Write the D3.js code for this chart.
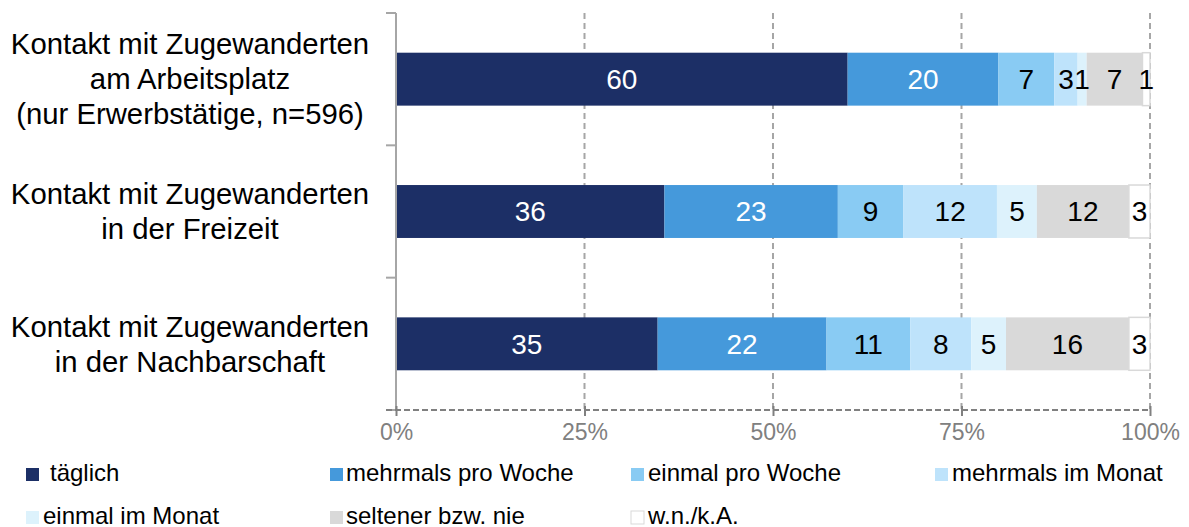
<!DOCTYPE html>
<html><head><meta charset="utf-8">
<script src="https://cdn.jsdelivr.net/npm/d3@7"></script>
<style>
html,body{margin:0;padding:0;background:#fff;}
svg{display:block;font-family:"Liberation Sans",Arial,sans-serif;}
</style></head>
<body>
<svg id="chart" width="1189" height="527"></svg>
<script>
const categories = [
  "Kontakt mit Zugewanderten\nam Arbeitsplatz\n(nur Erwerbstätige, n=596)",
  "Kontakt mit Zugewanderten\nin der Freizeit",
  "Kontakt mit Zugewanderten\nin der Nachbarschaft"
];
const seriesNames = ["täglich","mehrmals pro Woche","einmal pro Woche","mehrmals im Monat","einmal im Monat","seltener bzw. nie","w.n./k.A."];
const seriesColors = ["#1C2F66","#4599DB","#89CBF3","#BEE3FB","#DDF2FC","#D9D9D9","#FFFFFF"];
const labelColors = ["#FFFFFF","#FFFFFF","#000000","#000000","#000000","#000000","#000000"];
const tagliche = [59.9, 35.6, 34.7];
const mehrmalsWoche = [20.0, 23.0, 22.4];
const einmalWoche = [7.4, 8.7, 11.1];
const mehrmalsMonat = [3.1, 12.4, 8.1];
const einmalMonat = [1.2, 5.3, 4.6];
const seltener = [7.4, 12.2, 16.3];
const wnka = [1.0, 2.8, 2.8];
const seriesValues = [tagliche, mehrmalsWoche, einmalWoche, mehrmalsMonat, einmalMonat, seltener, wnka];
const tickValues = [0, 25, 50, 75, 100];
const tickLabels = ["0%","25%","50%","75%","100%"];

const svg = d3.select("#chart");
const x = d3.scaleLinear().domain([0,100]).range([396,1150]);
const y = d3.scaleBand().domain(d3.range(categories.length)).range([13,410]).paddingInner(0.6).paddingOuter(0.3);

// gridlines
svg.append("g").selectAll("line").data(tickValues.slice(1)).join("line")
  .attr("x1", d=>x(d)).attr("x2", d=>x(d)).attr("y1", 13).attr("y2", 410)
  .attr("stroke", "#A6A6A6").attr("stroke-width", 2).attr("stroke-dasharray", "6,4");

// stacked data
const rows = categories.map((c,i)=>{
  let acc = 0;
  return seriesValues.map((vals,s)=>{ const v = vals[i]; const seg = {s, i, x0: acc, x1: acc+v, v}; acc += v; return seg; });
});

const bars = svg.append("g");
rows.forEach(row=>{
  bars.selectAll(null).data(row).join("rect")
    .attr("x", d=>x(d.x0)).attr("width", d=>x(d.x1)-x(d.x0))
    .attr("y", d=>y(d.i)).attr("height", y.bandwidth())
    .attr("fill", d=>seriesColors[d.s])
    .attr("stroke", d=>d.s===6?"#D9D9D9":"none").attr("stroke-width",1.5);
  bars.selectAll(null).data(row).join("text")
    .attr("x", d=>(x(d.x0)+x(d.x1))/2).attr("y", d=>y(d.i)+y.bandwidth()/2)
    .attr("dy","0.35em").attr("text-anchor","middle")
    .attr("font-size", 28).attr("fill", d=>labelColors[d.s])
    .text(d=>Math.round(d.v));
});

// y axis
const yAxisG = svg.append("g");
yAxisG.append("line").attr("x1",396).attr("x2",396).attr("y1",13).attr("y2",410).attr("stroke","#A6A6A6").attr("stroke-width",2);
const boundaryYs = d3.range(categories.length+1).map(k=>13 + k*y.step());
yAxisG.selectAll("line.t").data(boundaryYs).join("line").attr("class","t")
  .attr("x1",386).attr("x2",396).attr("y1",d=>d).attr("y2",d=>d).attr("stroke","#A6A6A6").attr("stroke-width",2);

// category labels
categories.forEach((c,i)=>{
  const lines = c.split("\n");
  const cy = y(i)+y.bandwidth()/2;
  const lh = 35;
  const t = svg.append("text").attr("text-anchor","middle").attr("font-size",29.3).attr("fill","#000");
  lines.forEach((ln,k)=>{
    t.append("tspan").attr("x",190).attr("y", cy + (k-(lines.length-1)/2)*lh).attr("dy","0.35em").text(ln);
  });
});

// x axis
const xAxis = d3.axisBottom(x).tickValues(tickValues).tickFormat((d,i)=>tickLabels[i]).tickSize(6).tickPadding(8);
const xg = svg.append("g").attr("transform","translate(0,410)").call(xAxis);
xg.select(".domain").remove();
xg.insert("line",":first-child").attr("x1",386).attr("x2",1150).attr("y1",0).attr("y2",0)
  .attr("stroke","#808080").attr("stroke-width",2).attr("stroke-dasharray","6,3");
xg.selectAll(".tick line").attr("stroke","#808080").attr("stroke-width",2).attr("y1",-4);
xg.selectAll(".tick text").attr("fill","#808080").attr("font-size",23).attr("font-family","Liberation Sans, Arial, sans-serif");

// legend
const legendPos = [
  {sx:26, tx:50, y:473},{sx:330, tx:346, y:473},{sx:631, tx:648, y:473},{sx:935, tx:952, y:473},
  {sx:26, tx:43, y:516},{sx:330, tx:346, y:516},{sx:631, tx:648, y:516}
];
const lg = svg.append("g");
seriesNames.forEach((n,s)=>{
  const p = legendPos[s];
  lg.append("rect").attr("x",p.sx).attr("y",p.y-5).attr("width",13).attr("height",13)
    .attr("fill",seriesColors[s]).attr("stroke", s===6?"#D9D9D9":"none").attr("stroke-width",1);
  lg.append("text").attr("x",p.tx).attr("y",p.y).attr("dy","0.35em").attr("font-size",24)
    .attr("fill","#000").text(n);
});
</script>
</body></html>
